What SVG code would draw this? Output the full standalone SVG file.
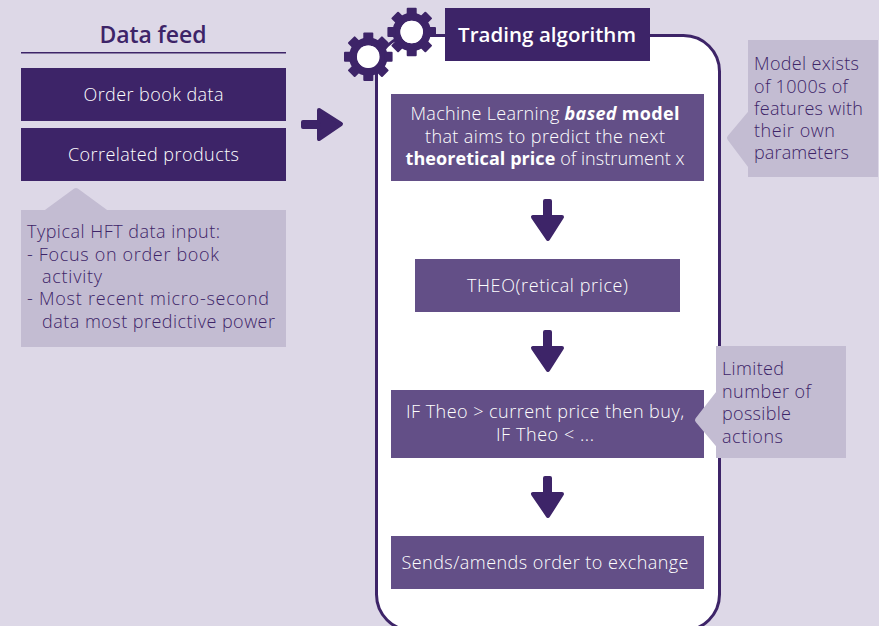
<svg xmlns="http://www.w3.org/2000/svg" xmlns:xlink="http://www.w3.org/1999/xlink" width="879" height="626" viewBox="0 0 879 626">
<style>
text{font-family:"Open Sans","Noto Sans","Liberation Sans",sans-serif;font-size:18px;}
.w{fill:#fff;text-anchor:middle;font-weight:300;}
.c{fill:#3d2468;font-weight:300;}
.dark{fill:#3d2468;}
.mid{fill:#634f87;}
.call{fill:#c3bcd2;}
.tip{fill:#c3bcd2;stroke:#c3bcd2;stroke-width:6;stroke-linejoin:round;}
.arrow{fill:#3d2468;stroke:#3d2468;stroke-width:4;stroke-linejoin:round;}
</style>
<defs>
<g id="gear">
<circle r="15.200" fill="none" stroke="#3d2468" stroke-width="8"/>
<g class="dark">
<rect x="-5" y="-24.300" width="10" height="8" rx="1"/>
<rect x="-5" y="-24.300" width="10" height="8" rx="1" transform="rotate(45)"/>
<rect x="-5" y="-24.300" width="10" height="8" rx="1" transform="rotate(90)"/>
<rect x="-5" y="-24.300" width="10" height="8" rx="1" transform="rotate(135)"/>
<rect x="-5" y="-24.300" width="10" height="8" rx="1" transform="rotate(180)"/>
<rect x="-5" y="-24.300" width="10" height="8" rx="1" transform="rotate(225)"/>
<rect x="-5" y="-24.300" width="10" height="8" rx="1" transform="rotate(270)"/>
<rect x="-5" y="-24.300" width="10" height="8" rx="1" transform="rotate(315)"/>
</g>
<circle r="11.300" fill="#fff"/>
</g>
<path id="down" class="arrow" d="M545 201H550V217H562L548 239L533 217H545Z"/>
</defs>
<rect width="879" height="626" fill="#ddd8e7"/>

<g id="panel">
<rect x="376.500" y="35.500" width="343" height="595" rx="36" ry="36" fill="#fff" stroke="#3d2468" stroke-width="3"/>
</g>

<g id="data-feed-title">
<text x="153" y="43" text-anchor="middle" textLength="107" style="font-size:23px;font-weight:600;fill:#3d2468">Data feed</text>
<rect x="21" y="52" width="265" height="1.500" class="dark"/>
</g>
<g id="order-book">
<rect x="21" y="68" width="265" height="53" class="dark"/>
<text x="153.500" y="101" class="w" textLength="140">Order book data</text>
</g>
<g id="correlated">
<rect x="21" y="128" width="265" height="53" class="dark"/>
<text x="153.500" y="161" class="w" textLength="171">Correlated products</text>
</g>
<g id="hft-note">
<path class="tip" d="M46 213L76 191L106 213Z"/>
<rect x="21" y="210" width="265" height="137" class="call"/>
<text class="c" x="27" y="238" textLength="193">Typical HFT data input:</text>
<text class="c" x="27" y="261" textLength="192">- Focus on order book</text>
<text class="c" x="42" y="283" textLength="60">activity</text>
<text class="c" x="27" y="305" textLength="242">- Most recent micro-second</text>
<text class="c" x="42" y="328" textLength="233">data most predictive power</text>
</g>

<g id="gears">
<use xlink:href="#gear" href="#gear" x="368.300" y="56.700"/>
<use xlink:href="#gear" href="#gear" x="411.700" y="32"/>
</g>
<g id="algo-title">
<rect x="445" y="8" width="205" height="53" class="dark"/>
<text x="547" y="42" text-anchor="middle" textLength="178" style="font-size:20.500px;font-weight:600;fill:#fff">Trading algorithm</text>
</g>

<g id="model">
<rect x="391" y="94" width="313" height="87" class="mid"/>
<text x="545" y="120" class="w" textLength="269">Machine Learning <tspan font-weight="700" font-style="italic">based</tspan> <tspan font-weight="700">model</tspan></text>
<text x="545" y="143" class="w" textLength="240">that aims to predict the next</text>
<text x="545" y="165" class="w" textLength="279"><tspan font-weight="700">theoretical price</tspan> of instrument x</text>
</g>
<g id="theo">
<rect x="415" y="259" width="265" height="53" class="mid"/>
<text x="547.500" y="292" class="w" textLength="161">THEO(retical price)</text>
</g>
<g id="rule">
<rect x="391" y="390" width="313" height="68" class="mid"/>
<text x="545" y="418" class="w" textLength="278">IF Theo &gt; current price then buy,</text>
<text x="545" y="441" class="w" textLength="98">IF Theo &lt; ...</text>
</g>
<g id="order">
<rect x="391" y="536" width="313" height="53" class="mid"/>
<text x="545" y="569" class="w" textLength="287">Sends/amends order to exchange</text>
</g>

<g id="model-note">
<path class="tip" d="M751 113L730 138L751 166Z"/>
<rect x="748" y="40" width="130" height="137" class="call"/>
<text class="c" x="754" y="70" textLength="105">Model exists</text>
<text class="c" x="754" y="93" textLength="94">of 1000s of</text>
<text class="c" x="754" y="115" textLength="109">features with</text>
<text class="c" x="754" y="137" textLength="81">their own</text>
<text class="c" x="754" y="159" textLength="95">parameters</text>
</g>
<g id="actions-note">
<path class="tip" d="M719 393L698 420L719 445Z"/>
<rect x="716" y="346" width="130" height="112" class="call"/>
<text class="c" x="722" y="375" textLength="62">Limited</text>
<text class="c" x="722" y="398" textLength="89">number of</text>
<text class="c" x="722" y="420" textLength="69">possible</text>
<text class="c" x="722" y="443" textLength="61">actions</text>
</g>

<g id="connectors">
<path class="arrow" d="M303 122H319V110L341 124L319 139V127H303Z"/>
<use xlink:href="#down" href="#down"/>
<use xlink:href="#down" href="#down" y="131"/>
<use xlink:href="#down" href="#down" y="277"/>
</g>
</svg>
